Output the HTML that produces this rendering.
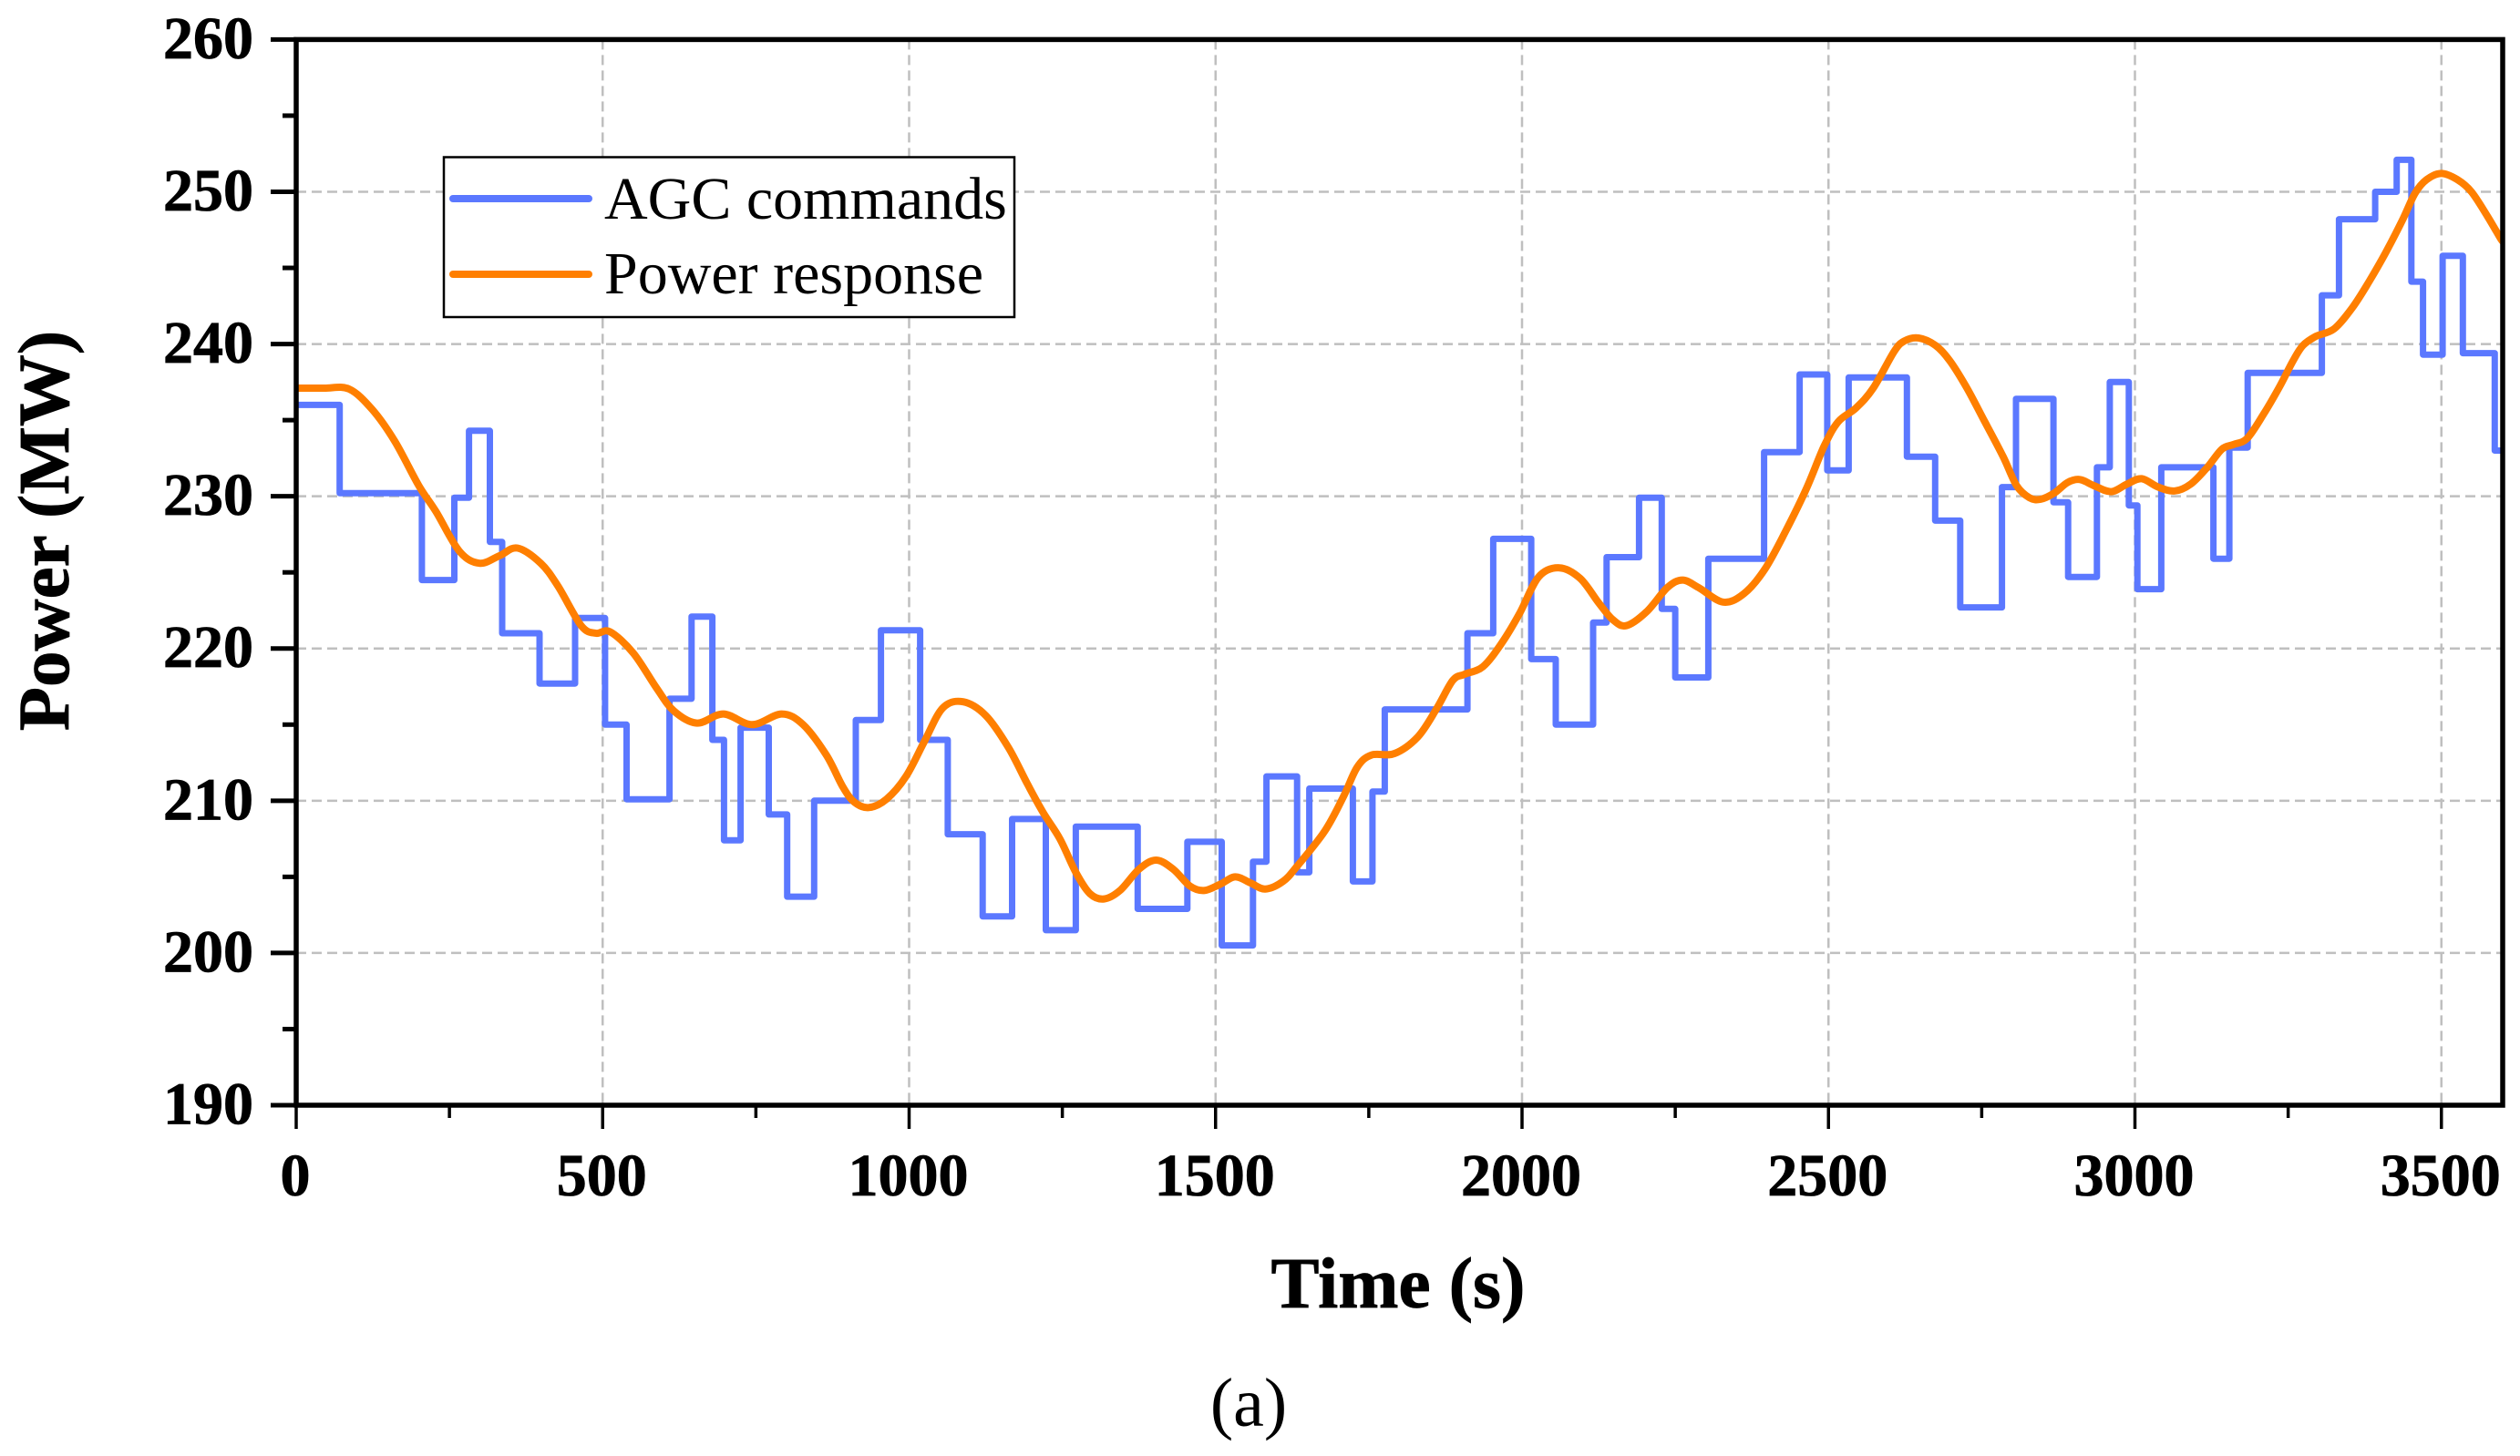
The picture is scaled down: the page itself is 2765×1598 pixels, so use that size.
<!DOCTYPE html>
<html lang="en">
<head>
<meta charset="utf-8">
<title>AGC commands and power response</title>
<style>
  html, body { margin: 0; padding: 0; background: #fff; }
  svg { display: block; }
  text { font-family: "Liberation Serif", "Times New Roman", serif; fill: #000; }
  .tick-label { font-weight: bold; font-size: 66px; stroke: #000; stroke-width: 0.8px; }
  .axis-title { font-weight: bold; stroke: #000; stroke-width: 0.8px; }
</style>
</head>
<body>
<svg id="chart" xmlns="http://www.w3.org/2000/svg" width="2765" height="1598" viewBox="0 0 2765 1598">
  <rect x="0" y="0" width="2765" height="1598" fill="#ffffff"/>
  <defs>
    <clipPath id="plot-clip"><rect x="325" y="43" width="2421" height="1170"/></clipPath>
  </defs>
  <g id="grid"></g>
  <g id="series" clip-path="url(#plot-clip)"></g>
  <g id="axes"></g>

  <g>
    <rect x="487" y="172.5" width="626" height="175.5" fill="#ffffff" stroke="#000000" stroke-width="2.5"/>
    <line x1="497" y1="218" x2="646" y2="218" stroke="#5b78ff" stroke-width="8" stroke-linecap="round"/>
    <text x="663" y="240" font-size="66">AGC commands</text>
    <line x1="497" y1="301" x2="646" y2="301" stroke="#ff7f00" stroke-width="8" stroke-linecap="round"/>
    <text x="663" y="322" font-size="66">Power response</text>
  </g>

  <text class="axis-title" x="1534" y="1435" font-size="79.5" text-anchor="middle">Time (s)</text>
  <text class="axis-title" transform="translate(75,582.5) rotate(-90)" font-size="79" text-anchor="middle">Power (MW)</text>
  <text x="1370" y="1565" font-size="76" text-anchor="middle">(a)</text>
</svg>

<script>
// Chart data
const xTickLabels = ["0", "500", "1000", "1500", "2000", "2500", "3000", "3500"];
const xMinorTicks = [250, 750, 1250, 1750, 2250, 2750, 3250];
const yTickLabels = ["190", "200", "210", "220", "230", "240", "250", "260"];
const yMinorTicks = [195, 205, 215, 225, 235, 245, 255];

// AGC commands: time at which each level starts, and the level held from then on
const agcTimes = [0, 71, 205, 258, 282, 316, 336, 397, 455, 504, 539, 609, 645, 679, 698, 725, 771, 801, 845, 913, 954, 1018, 1063, 1120, 1168, 1223, 1272, 1373, 1454, 1510, 1561, 1583, 1633, 1653, 1724, 1756, 1776, 1911, 1953, 2015, 2055, 2116, 2138, 2191, 2228, 2250, 2304, 2395, 2453, 2498, 2533, 2628, 2674, 2715, 2783, 2806, 2867, 2891, 2938, 2959, 2990, 3004, 3043, 3128, 3154, 3184, 3305, 3333, 3392, 3427, 3451, 3470, 3502, 3535, 3587];
const agcLevels = [236.0, 230.2, 224.5, 229.9, 234.3, 227.0, 221.0, 217.7, 222.0, 215.0, 210.1, 216.7, 222.1, 214.0, 207.4, 214.8, 209.1, 203.7, 210.0, 215.3, 221.2, 214.0, 207.8, 202.4, 208.8, 201.5, 208.3, 202.9, 207.3, 200.5, 206.0, 211.6, 205.3, 210.8, 204.7, 210.6, 216.0, 221.0, 227.2, 219.3, 215.0, 221.7, 226.0, 229.9, 222.6, 218.1, 225.9, 232.9, 238.0, 231.7, 237.8, 232.6, 228.4, 222.7, 230.6, 236.4, 229.6, 224.7, 231.9, 237.5, 229.4, 223.9, 231.9, 225.9, 233.2, 238.1, 243.2, 248.2, 250.0, 252.1, 244.1, 239.3, 245.8, 239.4, 233.0];
const agcEndTime = 3600;

// Power response: sampled time and value
const powerTimes = [0, 45, 86, 124, 161, 200, 228, 266, 299, 332, 361, 399, 427, 465, 489, 512, 550, 588, 616, 654, 697, 744, 792, 827, 865, 892, 911, 934, 963, 995, 1025, 1055, 1088, 1125, 1162, 1193, 1219, 1246, 1272, 1295, 1318, 1344, 1375, 1403, 1431, 1458, 1481, 1507, 1532, 1557, 1581, 1610, 1633, 1678, 1709, 1731, 1754, 1792, 1830, 1860, 1887, 1906, 1936, 1966, 1996, 2027, 2061, 2095, 2125, 2148, 2170, 2203, 2237, 2262, 2288, 2328, 2362, 2396, 2430, 2464, 2493, 2516, 2545, 2573, 2607, 2624, 2647, 2675, 2698, 2726, 2755, 2785, 2807, 2828, 2846, 2868, 2890, 2910, 2933, 2961, 2987, 3011, 3038, 3065, 3091, 3118, 3142, 3161, 3183, 3210, 3236, 3258, 3274, 3295, 3325, 3355, 3382, 3409, 3436, 3457, 3476, 3500, 3526, 3549, 3575, 3597, 3600];
const powerValues = [237.1, 237.1, 237.05, 235.7, 233.6, 230.7, 229.0, 226.4, 225.6, 226.1, 226.6, 225.6, 224.1, 221.5, 221.0, 221.1, 219.7, 217.4, 215.9, 215.1, 215.7, 215.0, 215.7, 215.0, 213.0, 210.9, 209.9, 209.55, 210.1, 211.6, 213.9, 216.1, 216.5, 215.6, 213.5, 211.1, 209.2, 207.5, 205.3, 203.9, 203.55, 204.1, 205.5, 206.1, 205.5, 204.4, 204.1, 204.5, 205.0, 204.6, 204.2, 204.7, 205.7, 208.0, 210.3, 212.2, 213.0, 213.1, 214.2, 216.0, 217.9, 218.3, 218.8, 220.3, 222.3, 224.7, 225.3, 224.6, 223.0, 221.9, 221.5, 222.4, 224.0, 224.5, 224.0, 223.05, 223.6, 225.2, 227.7, 230.5, 233.3, 234.9, 235.8, 237.1, 239.5, 240.2, 240.4, 239.9, 238.9, 237.1, 234.9, 232.6, 230.7, 229.9, 229.8, 230.2, 230.9, 231.1, 230.7, 230.3, 230.8, 231.15, 230.6, 230.35, 230.8, 231.9, 233.1, 233.4, 233.8, 235.4, 237.2, 238.9, 239.9, 240.5, 241.0, 242.4, 244.1, 246.0, 248.1, 249.9, 250.8, 251.2, 250.8, 250.0, 248.4, 246.9, 246.8];

// Axis domains and functions
const xMin = 0, xMax = 3600, yMin = 190, yMax = 260;
const plotLeft = 325, plotRight = 2746, plotTop = 43.4, plotBottom = 1213;
function xScale(t) { return plotLeft + (t - xMin) * 0.6725; }
function yScale(v) { return plotBottom - (v - yMin) / (yMax - yMin) * (plotBottom - plotTop); }

const NS = 'http://www.w3.org/2000/svg';
const gridG = document.getElementById('grid');
const axesG = document.getElementById('axes');
const seriesG = document.getElementById('series');

function makeLine(parent, x1, y1, x2, y2, stroke, width, dash) {
  const l = document.createElementNS(NS, 'line');
  l.setAttribute('x1', x1); l.setAttribute('y1', y1);
  l.setAttribute('x2', x2); l.setAttribute('y2', y2);
  l.setAttribute('stroke', stroke); l.setAttribute('stroke-width', width);
  if (dash) l.setAttribute('stroke-dasharray', dash);
  parent.appendChild(l);
  return l;
}
function makeText(parent, x, y, anchor, str) {
  const t = document.createElementNS(NS, 'text');
  t.setAttribute('class', 'tick-label');
  t.setAttribute('x', x); t.setAttribute('y', y);
  t.setAttribute('text-anchor', anchor);
  t.textContent = str;
  parent.appendChild(t);
  return t;
}

// Grid lines and major ticks
xTickLabels.forEach(function (label) {
  const t = Number(label);
  const px = xScale(t);
  if (t > xMin) {
    const g = makeLine(gridG, px, plotTop, px, plotBottom, '#bfbfbf', 2.5, '11 6');
    
    
  }
  const tick = makeLine(axesG, px, plotBottom, px, 1239, '#000', 3.5);
  
  
  const txt = makeText(axesG, px - 1, 1312, 'middle', label);
  
  
});
xMinorTicks.forEach(function (t) {
  const px = xScale(t);
  const tick = makeLine(axesG, px, plotBottom, px, 1227, '#000', 3.5);
  
  
});
yTickLabels.forEach(function (label) {
  const v = Number(label);
  const py = yScale(v);
  if (v > yMin && v < yMax) {
    const g = makeLine(gridG, plotLeft, py, plotRight, py, '#bfbfbf', 2.5, '11 6');
    
    
  }
  const tick = makeLine(axesG, 297, py, plotLeft, py, '#000', 5);
  
  
  const txt = makeText(axesG, 278, py + 20.5, 'end', label);
  
  
});
yMinorTicks.forEach(function (v) {
  const py = yScale(v);
  const tick = makeLine(axesG, 310, py, plotLeft, py, '#000', 5);
  
  
});

// Plot frame
const frame = document.createElementNS(NS, 'rect');
frame.setAttribute('x', plotLeft);
frame.setAttribute('y', plotTop);
frame.setAttribute('width', plotRight - plotLeft);
frame.setAttribute('height', plotBottom - plotTop);
frame.setAttribute('fill', 'none');
frame.setAttribute('stroke', '#000');
frame.setAttribute('stroke-width', '5.5');


axesG.appendChild(frame);

// AGC step line
let agcD = '';
agcTimes.forEach(function (t, i) {
  agcD += (i === 0 ? 'M' : 'L') + xScale(t).toFixed(1) + ' ' + yScale(agcLevels[i]).toFixed(1);
  const next = i + 1 < agcTimes.length ? agcTimes[i + 1] : agcEndTime;
  agcD += 'L' + xScale(next).toFixed(1) + ' ' + yScale(agcLevels[i]).toFixed(1);
});
const agcPath = document.createElementNS(NS, 'path');
agcPath.setAttribute('d', agcD);
agcPath.setAttribute('fill', 'none');
agcPath.setAttribute('stroke', '#5b78ff');
agcPath.setAttribute('stroke-width', '7');
agcPath.setAttribute('stroke-linejoin', 'round');


seriesG.appendChild(agcPath);

// Power response smooth line (Catmull-Rom through the samples)
const pts = powerTimes.map(function (t, i) { return [xScale(t), yScale(powerValues[i])]; });
let powerD = 'M' + pts[0][0].toFixed(1) + ' ' + pts[0][1].toFixed(1);
for (let i = 0; i < pts.length - 1; i++) {
  const p0 = pts[Math.max(i - 1, 0)], p1 = pts[i], p2 = pts[i + 1], p3 = pts[Math.min(i + 2, pts.length - 1)];
  const c1x = p1[0] + (p2[0] - p0[0]) / 6, c1y = p1[1] + (p2[1] - p0[1]) / 6;
  const c2x = p2[0] - (p3[0] - p1[0]) / 6, c2y = p2[1] - (p3[1] - p1[1]) / 6;
  powerD += 'C' + c1x.toFixed(1) + ' ' + c1y.toFixed(1) + ' ' + c2x.toFixed(1) + ' ' + c2y.toFixed(1) + ' ' + p2[0].toFixed(1) + ' ' + p2[1].toFixed(1);
}
const powerPath = document.createElementNS(NS, 'path');
powerPath.setAttribute('d', powerD);
powerPath.setAttribute('fill', 'none');
powerPath.setAttribute('stroke', '#ff7f00');
powerPath.setAttribute('stroke-width', '8');
powerPath.setAttribute('stroke-linejoin', 'round');


seriesG.appendChild(powerPath);
</script>
</body>
</html>
